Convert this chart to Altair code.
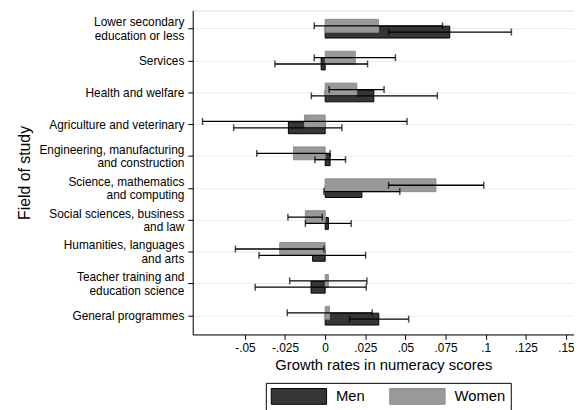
import altair as alt
import pandas as pd

categories = [
    "Lower secondary|education or less",
    "Services",
    "Health and welfare",
    "Agriculture and veterinary",
    "Engineering, manufacturing|and construction",
    "Science, mathematics|and computing",
    "Social sciences, business|and law",
    "Humanities, languages|and arts",
    "Teacher training and|education science",
    "General programmes",
]
men_est = [0.0776, -0.0025, 0.0303, -0.0229, 0.0031, 0.0229, 0.0020, -0.0078, -0.0088, 0.0334]
men_lo = [0.0395, -0.0313, -0.0086, -0.0570, -0.0064, -0.0008, -0.0123, -0.0412, -0.0436, 0.0152]
men_hi = [0.1160, 0.0264, 0.0699, 0.0104, 0.0127, 0.0465, 0.0162, 0.0252, 0.0256, 0.0520]
women_est = [0.0332, 0.0188, 0.0197, -0.0129, -0.0197, 0.0690, -0.0123, -0.0283, 0.0020, 0.0027]
women_lo = [-0.0068, -0.0068, 0.0025, -0.0764, -0.0426, 0.0395, -0.0232, -0.0559, -0.0221, -0.0236]
women_hi = [0.0731, 0.0438, 0.0367, 0.0510, 0.0031, 0.0988, -0.0018, -0.0008, 0.0260, 0.0293]
x_ticks = [-0.05, -0.025, 0, 0.025, 0.05, 0.075, 0.1, 0.125, 0.15]

rows = []
for i, c in enumerate(categories):
    rows.append({"cat": c, "sex": "Men", "est": men_est[i], "lo": men_lo[i], "hi": men_hi[i]})
    rows.append({"cat": c, "sex": "Women", "est": women_est[i], "lo": women_lo[i], "hi": women_hi[i]})
df = pd.DataFrame(rows)

FONT = "Liberation Sans"
xscale = alt.Scale(domain=[-0.0825, 0.155], nice=False, zero=False)
yscale = alt.Scale(domain=categories, paddingInner=0, paddingOuter=0.08)

x_enc = alt.X(
    "est:Q", scale=xscale,
    axis=alt.Axis(
        values=x_ticks, grid=False, title="Growth rates in numeracy scores",
        labelExpr="(datum.value < 0 ? '-' : '') + replace(toString(abs(datum.value)), '0.', '.')",
        labelFontSize=12, titleFontSize=15, titleFontWeight="normal",
        labelColor="black", titleColor="black", tickColor="black", domainColor="black",
        tickSize=5, labelPadding=3, titlePadding=4, labelFont=FONT, titleFont=FONT,
        labelFlush=False, labelOverlap=False,
    ),
)
y_enc = alt.Y(
    "cat:N", scale=yscale, sort=categories,
    axis=alt.Axis(
        title="Field of study", labelExpr="split(datum.label, '|')",
        labelFontSize=12, labelLineHeight=13.5, titleFontSize=16, titleFontWeight="normal",
        labelColor="black", titleColor="black", tickColor="black", domainColor="black",
        tickSize=5, labelPadding=4, titlePadding=6, labelFont=FONT, titleFont=FONT,
        grid=True, gridColor="#e6eef0", gridWidth=1, bandPosition=0.5,
        labelLimit=300,
        labelOffset={"condition": {"test": "indexof(datum.label, '|') >= 0", "value": -6.75}, "value": 0},
    ),
)

color_scale = alt.Scale(domain=["Men", "Women"], range=["#363636", "#999999"])
stroke_scale = alt.Scale(domain=["Men", "Women"], range=["#000000", "#8c8c8c"])
legend = alt.Legend(
    title=None, orient="none", legendX=74, legendY=377, direction="horizontal",
    strokeColor="black", padding=5, symbolType="M-1,-1H6V1H-1Z",
    symbolSize=256, symbolStrokeWidth=1, labelFontSize=15, labelFont=FONT,
    labelColor="black", labelOffset=49, columnPadding=22, fillColor="white",
    labelExpr="datum.label == 'Women' ? 'Women   ' : datum.label",
)

base = alt.Chart(df)

men_bar = base.transform_filter(alt.datum.sex == "Men").mark_bar(
    size=12, yOffset=3.2, strokeWidth=1
).encode(
    x=x_enc, x2=alt.datum(0), y=y_enc,
    color=alt.Color("sex:N", scale=color_scale, legend=legend),
    stroke=alt.Stroke("sex:N", scale=stroke_scale, legend=legend),
)
women_bar = base.transform_filter(alt.datum.sex == "Women").mark_bar(
    size=13, yOffset=-3.2, strokeWidth=1
).encode(
    x=x_enc, x2=alt.datum(0), y=y_enc,
    color=alt.Color("sex:N", scale=color_scale, legend=legend),
    stroke=alt.Stroke("sex:N", scale=stroke_scale, legend=legend),
)

def errbars(sex, off):
    b = base.transform_filter(alt.datum.sex == sex)
    rule = b.mark_rule(color="black", strokeWidth=1.3, yOffset=off).encode(
        x=alt.X("lo:Q", scale=xscale), x2="hi:Q", y=alt.Y("cat:N", scale=yscale, sort=categories)
    )
    cap_lo = b.mark_tick(color="black", thickness=1.5, size=7, yOffset=off).encode(
        x=alt.X("lo:Q", scale=xscale), y=alt.Y("cat:N", scale=yscale, sort=categories)
    )
    cap_hi = b.mark_tick(color="black", thickness=1.5, size=7, yOffset=off).encode(
        x=alt.X("hi:Q", scale=xscale), y=alt.Y("cat:N", scale=yscale, sort=categories)
    )
    return rule + cap_lo + cap_hi

chart = alt.layer(
    men_bar, women_bar, errbars("Men", 3.2), errbars("Women", -3.2)
).properties(
    width=386, height=328,
    autosize=alt.AutoSizeParams(type="none"),
    padding={"left": 187, "top": 0, "right": 0, "bottom": 74},
).configure_view(stroke=None).configure(background="white")

chart.save("out.html", embed_options={"renderer": "svg", "actions": False})
